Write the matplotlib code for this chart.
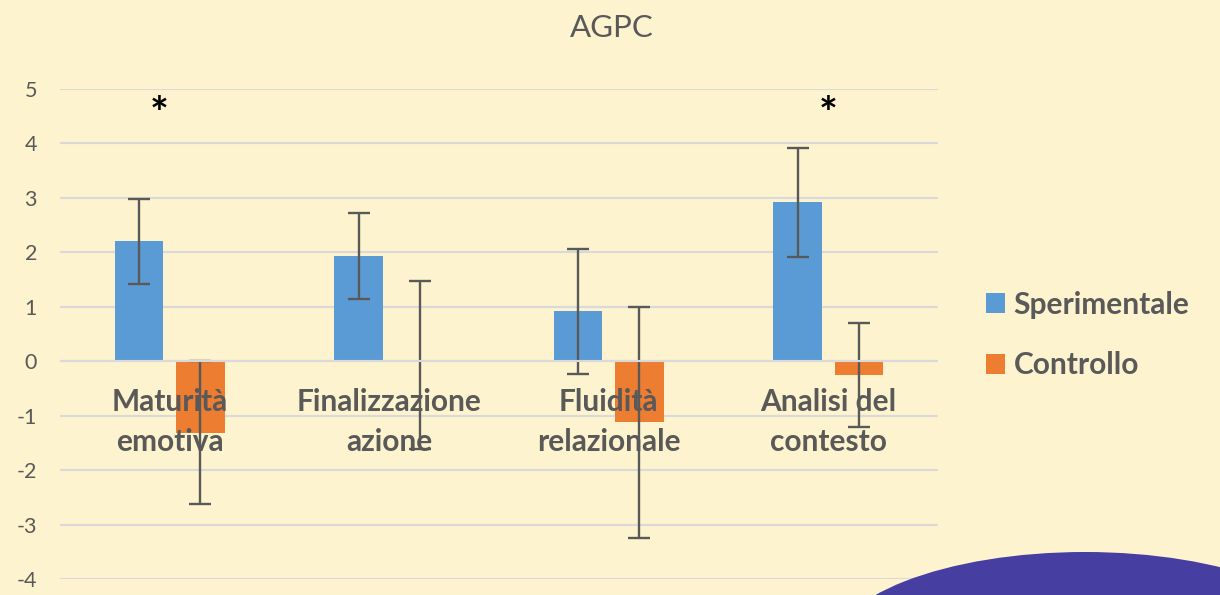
import matplotlib
matplotlib.use("Agg")
import matplotlib.pyplot as plt
from matplotlib.patches import Patch, Ellipse
import numpy as np

categories = ["Maturità\nemotiva", "Finalizzazione\nazione", "Fluidità\nrelazionale", "Analisi del\ncontesto"]
series_names = ["Sperimentale", "Controllo"]
sperimentale = [2.20, 1.93, 0.92, 2.92]
sperimentale_err = [0.78, 0.79, 1.15, 1.00]
controllo = [-1.31, 0.00, -1.12, -0.25]
controllo_err_low = [1.32, 1.62, 2.12, 0.96]
controllo_err_high = [1.31, 1.48, 2.12, 0.95]
significance = ["*", "", "", "*"]
title = "AGPC"
yticks = [-4, -3, -2, -1, 0, 1, 2, 3, 4, 5]

BG = "#FDF3CE"
GREY = "#595959"
BLUE = "#5B9BD5"
ORANGE = "#ED7D31"
GRID = "#D9D9D9"

plt.rcParams['font.family'] = ['Lato', 'DejaVu Sans']

fig = plt.figure(figsize=(12.2, 5.95), dpi=100, facecolor=BG)
ax = fig.add_axes([60/1220, 16/595, 878/1220, 490/595])
ax.set_facecolor(BG)

x = np.arange(len(categories))
w = 0.22
off = 0.14
ax.bar(x - off, sperimentale, w, color=BLUE, zorder=2)
ax.bar(x + off, controllo, w, color=ORANGE, zorder=2)

ax.errorbar(x - off, sperimentale, yerr=sperimentale_err, fmt='none', ecolor=GREY,
            elinewidth=1.7, capsize=8, capthick=1.7, zorder=5)
ax.errorbar(x + off, controllo, yerr=[controllo_err_low, controllo_err_high], fmt='none',
            ecolor=GREY, elinewidth=1.7, capsize=8, capthick=1.7, zorder=5)

ax.set_ylim(-4, 5)
ax.set_xlim(-0.5, 3.5)
ax.set_yticks(yticks)
ax.set_yticklabels([str(t) for t in yticks])
ax.tick_params(axis='y', length=0, pad=16.5, labelsize=15.5, labelcolor=GREY)
ax.set_xticks([])
ax.grid(axis='y', color=GRID, linewidth=1.5, zorder=0)
ax.set_axisbelow(True)
ax.axhline(0, color=GRID, linewidth=1.5, zorder=7)
for s in ax.spines.values():
    s.set_visible(False)

for i, lab in enumerate(categories):
    ax.text(i, -0.5, lab, ha='center', va='top', fontsize=21.5, fontweight='bold',
            color=GREY, linespacing=1.5, zorder=6)

sig_dx = [-0.05, 0, 0, 0]
for i, s in enumerate(significance):
    if s:
        ax.text(i + sig_dx[i], 4.53, s, ha='center', va='center', fontsize=32,
                fontweight='bold', color='black', zorder=6)

fig.text(612/1220, 1 - 28/595, title, ha='center', va='center', fontsize=22.5, color=GREY)

handles = [Patch(facecolor=BLUE), Patch(facecolor=ORANGE)]
fig.legend(handles, series_names, loc='center left', bbox_to_anchor=(986/1220, 1 - 335/595),
           frameon=False, prop={'weight': 'bold', 'size': 21.5}, labelcolor=GREY,
           handlelength=0.62, handleheight=0.62, handletextpad=0.3, labelspacing=1.1,
           borderpad=0, borderaxespad=0)

ell = Ellipse((10.85, -0.57), 5.1, 2.0, transform=fig.dpi_scale_trans,
              facecolor="#463EA0", edgecolor='none')
fig.add_artist(ell)

fig.savefig("out.png", dpi=100, facecolor=BG)
